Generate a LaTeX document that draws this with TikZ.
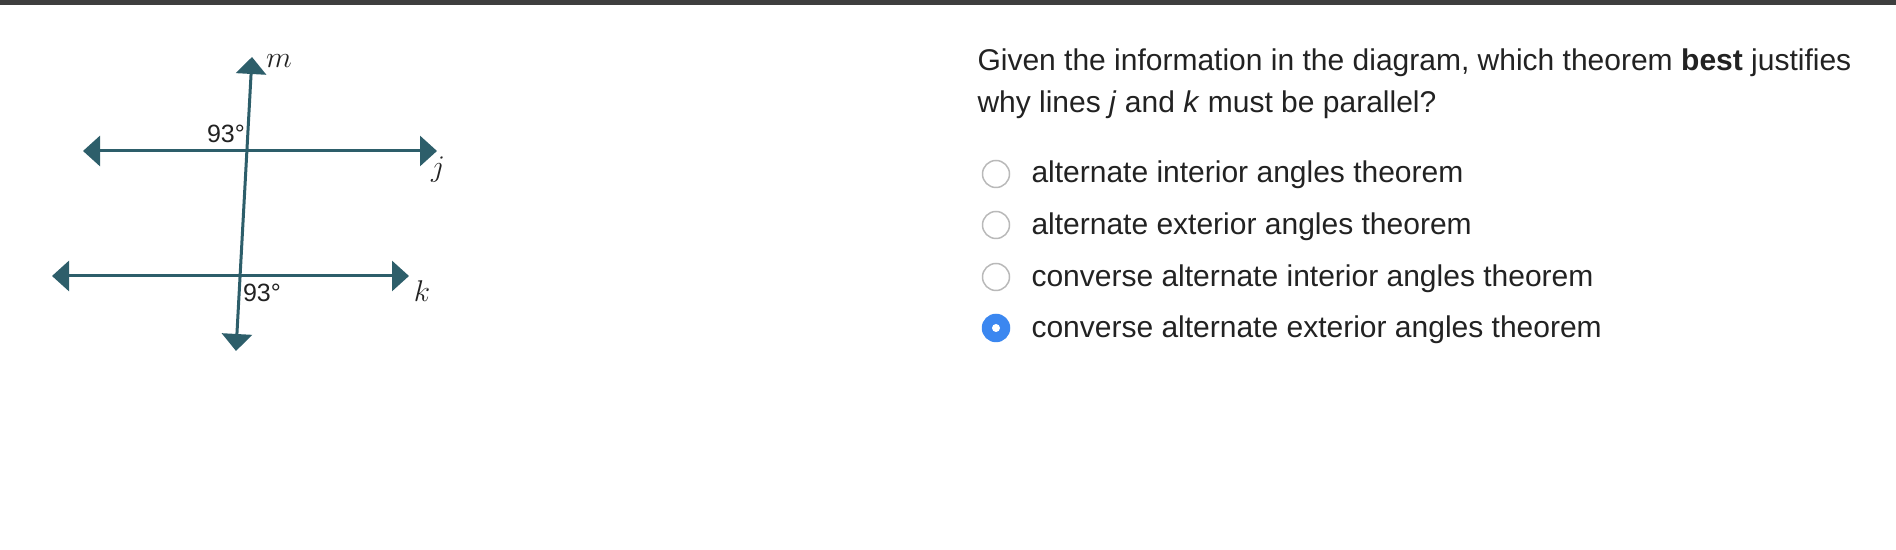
\documentclass[tikz,border=0pt]{standalone}
\usepackage{fontspec}
\setmainfont{Liberation Sans}
\usetikzlibrary{arrows.meta}
\definecolor{linecol}{RGB}{45,94,106}
\definecolor{barcol}{RGB}{62,62,62}
\definecolor{textcol}{RGB}{34,34,34}
\definecolor{radioblue}{RGB}{59,135,240}
\definecolor{radiogray}{RGB}{185,185,185}
\tikzset{
  dline/.style={linecol, line width=1.2pt,
    {Triangle[length=6.8pt,width=12pt]}-{Triangle[length=6.8pt,width=12pt]}},
  deg/.style={inner sep=0pt, text=textcol, font=\fontsize{10}{12}\selectfont},
  lbl/.style={inner sep=0pt, text=textcol, font=\fontsize{11.5}{13}\selectfont},
  qtext/.style={inner sep=0pt, anchor=base west, text=textcol, font=\fontsize{12}{14}\selectfont},
  radio/.style={circle, draw=radiogray, fill=white, line width=0.6pt, minimum size=10.8pt, inner sep=0pt},
  radioon/.style={circle, draw=radioblue, fill=radioblue, line width=0.6pt, minimum size=10.8pt, inner sep=0pt},
  radiodot/.style={circle, fill=white, minimum size=3.2pt, inner sep=0pt}
}
\begin{document}
\begin{tikzpicture}[x=0.4pt, y=-0.4pt]
  \useasboundingbox (0,0) rectangle (1896,550);
  \fill[barcol] (0,0) rectangle (1896,5);
  % line ends
  \coordinate (jl) at (83,151);
  \coordinate (jr) at (437,151);
  \coordinate (kl) at (52,276);
  \coordinate (kr) at (409,276);
  \coordinate (mt) at (252,57);
  \coordinate (mb) at (236,351);
  % labels
  \node[deg] (a1) at (226,134) {93°};
  \node[deg] (a2) at (262,293) {93°};
  \node[lbl] (lm) at (279,61) {$m$};
  \node[lbl] (lj) at (438,170) {$j$};
  \node[lbl] (lk) at (422,291) {$k$};
  % lines
  \draw[dline] (jl) -- (jr);
  \draw[dline] (kl) -- (kr);
  \draw[dline] (mt) -- (mb);
  %% question
  \node[qtext] (q1) at (977,71) {Given the information in the diagram, which theorem \textbf{best} justifies};
  \node[qtext] (q2) at (977,113) {why lines \textit{j} and \textit{k} must be parallel?};
  %% choices
  \node[radio] (r1) at (996,174) {};
  \node[radio] (r2) at (996,225) {};
  \node[radio] (r3) at (996,277) {};
  \node[radioon] (r4) at (996,328) {};
  \node[radiodot] (d4) at (r4) {};
  \node[qtext] (c1) at (1031,183) {alternate interior angles theorem};
  \node[qtext] (c2) at (1031,235) {alternate exterior angles theorem};
  \node[qtext] (c3) at (1031,287) {converse alternate interior angles theorem};
  \node[qtext] (c4) at (1031,338) {converse alternate exterior angles theorem};
\end{tikzpicture}
\end{document}
